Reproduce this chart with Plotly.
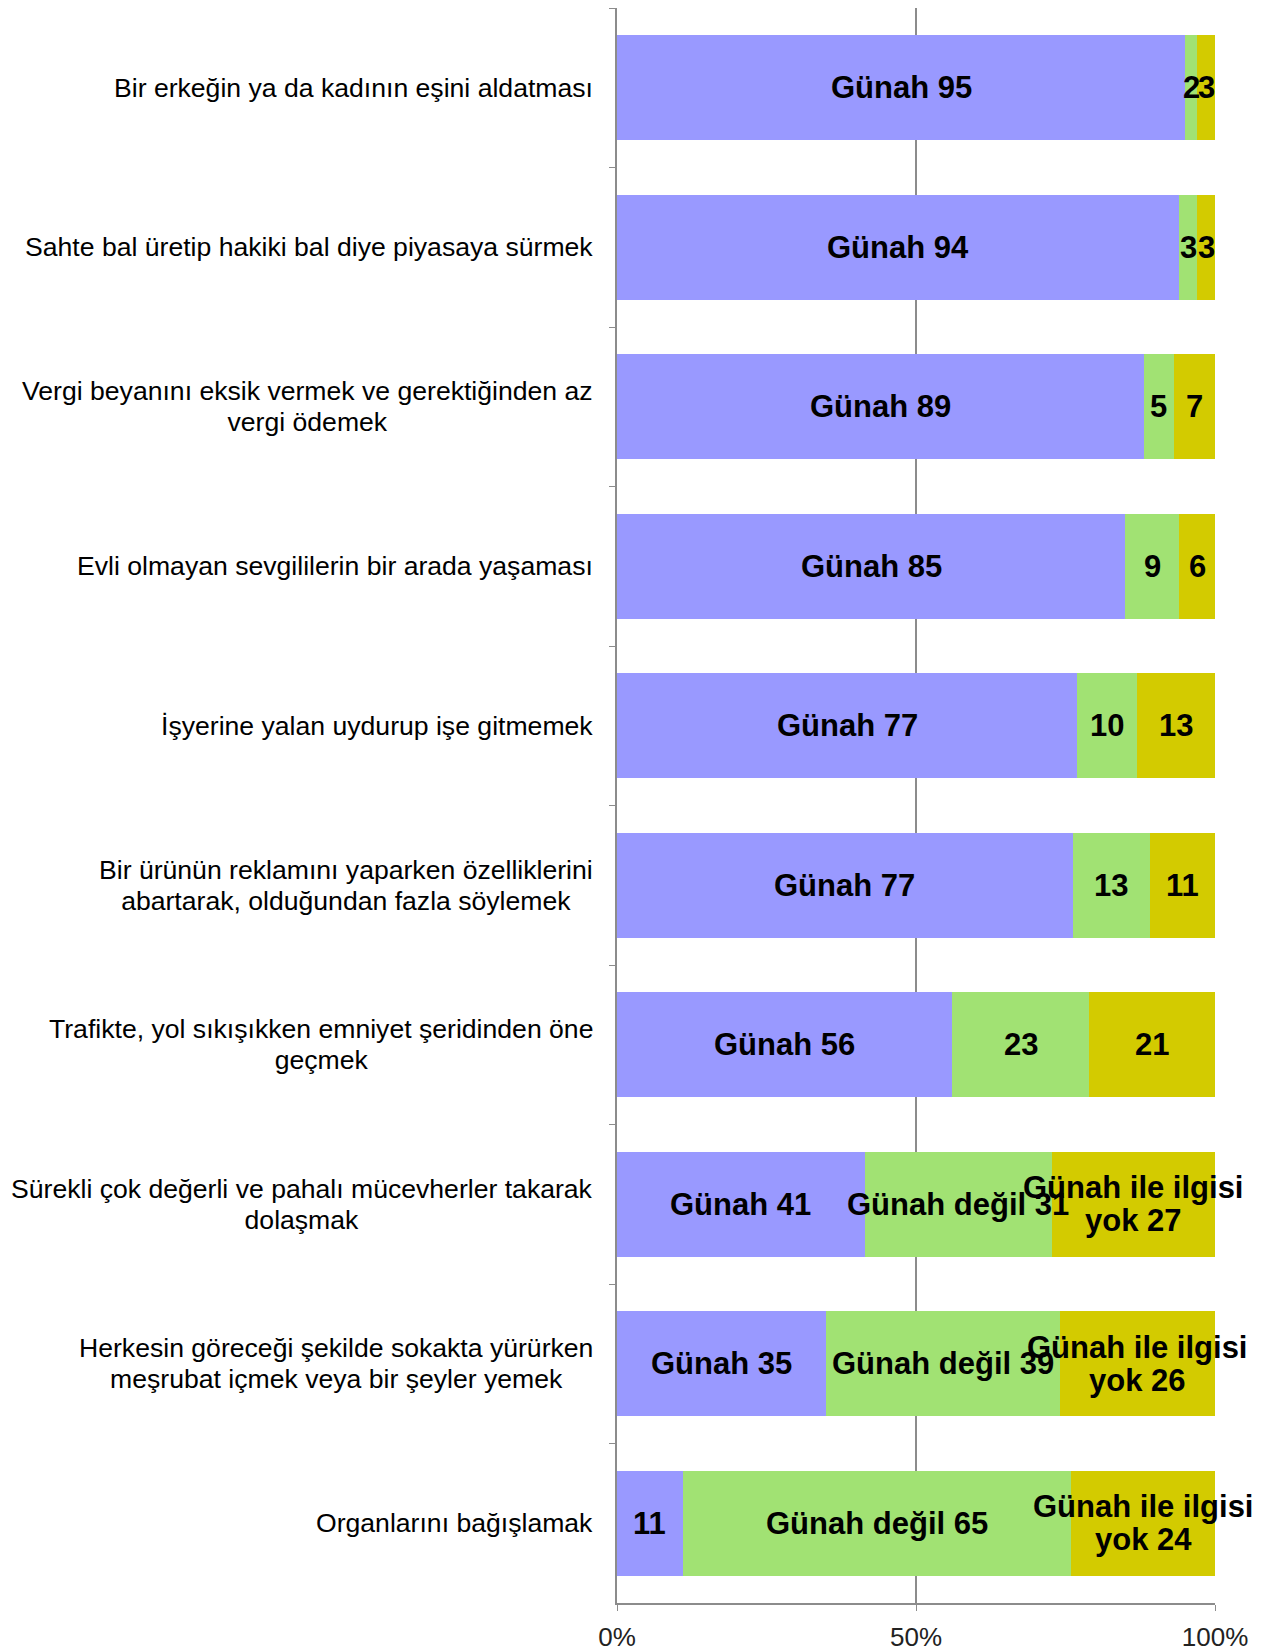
import plotly.graph_objects as go

categories = [
    "Bir erkeğin ya da kadının eşini aldatması",
    "Sahte bal üretip hakiki bal diye piyasaya sürmek",
    "Vergi beyanını eksik vermek ve gerektiğinden az<br>vergi ödemek",
    "Evli olmayan sevgililerin bir arada yaşaması",
    "İşyerine yalan uydurup işe gitmemek",
    "Bir ürünün reklamını yaparken özelliklerini<br>abartarak, olduğundan fazla söylemek",
    "Trafikte, yol sıkışıkken emniyet şeridinden öne<br>geçmek",
    "Sürekli çok değerli ve pahalı mücevherler takarak<br>dolaşmak",
    "Herkesin göreceği şekilde sokakta yürürken<br>meşrubat içmek veya bir şeyler yemek",
    "Organlarını bağışlamak",
]
cat_keys = [c.replace("<br>", " ") for c in categories]

gunah = [95, 94, 89, 85, 77, 77, 56, 41, 35, 11]
gunah_degil = [2, 3, 5, 9, 10, 13, 23, 31, 39, 65]
ilgisi_yok = [3, 3, 7, 6, 13, 11, 21, 27, 26, 24]

series_names = ["Günah", "Günah değil", "Günah ile ilgisi<br>yok"]
show_name = [
    [True] * 9 + [False],
    [False] * 7 + [True] * 3,
    [False] * 7 + [True] * 3,
]
colors = ["#9999FF", "#A1E273", "#D3CB00"]

FONT = "Liberation Sans, Arial, sans-serif"
series_vals = [gunah, gunah_degil, ilgisi_yok]

fig = go.Figure()
for name, vals, col in zip(series_names, series_vals, colors):
    fig.add_trace(go.Bar(
        y=cat_keys, x=vals, orientation="h", name=name.replace("<br>", " "),
        marker=dict(color=col, line=dict(width=0)),
        hoverinfo="skip",
    ))

# data labels as annotations (drawn above all bars), centred on each normalised segment
for i, key in enumerate(cat_keys):
    total = sum(s[i] for s in series_vals)
    cum = 0
    for name, vals, flags in zip(series_names, series_vals, show_name):
        v = vals[i]
        centre = (cum + v / 2) / total * 100
        cum += v
        t = f"{name} {v}" if flags[i] else f"{v}"
        fig.add_annotation(
            x=centre, xref="x", y=key, yref="y",
            text=f'<span style="font-size:31px">{t}</span>',
            xanchor="center", yanchor="middle", align="center",
            showarrow=False,
            font=dict(family=FONT, size=25, color="#000000", weight="bold"),
        )

for key, label in zip(cat_keys, categories):
    fig.add_annotation(
        x=0, xref="paper", y=key, yref="y",
        text=f'<span style="font-size:26.6px">{label}</span>',
        xanchor="right", yanchor="middle", align="center",
        xshift=-22, showarrow=False,
        font=dict(family=FONT, size=24, color="#000000"),
    )

fig.update_layout(
    width=1266, height=1652,
    margin=dict(l=609, r=59, t=0, b=57),
    barmode="stack", barnorm="percent", bargap=0.344,
    plot_bgcolor="white", paper_bgcolor="white",
    showlegend=False,
)
fig.update_xaxes(
    range=[0, 100], tickvals=[0, 50, 100], ticktext=["0%", "50%", "100%"],
    showgrid=True, gridcolor="#8C8C8C", gridwidth=1.5, zeroline=False,
    showline=True, linecolor="#8C8C8C", linewidth=1.5,
    ticks="outside", ticklen=6, tickcolor="#8C8C8C",
    ticklabelstandoff=4,
    tickfont=dict(family=FONT, size=26, color="#222222"),
)
fig.update_yaxes(
    autorange="reversed", showticklabels=False, tickson="boundaries",
    ticks="outside", ticklen=6, tickcolor="#8C8C8C",
    showline=True, linecolor="#8C8C8C", linewidth=1.5,
    showgrid=False, zeroline=False,
)

fig.write_html("out.html")
